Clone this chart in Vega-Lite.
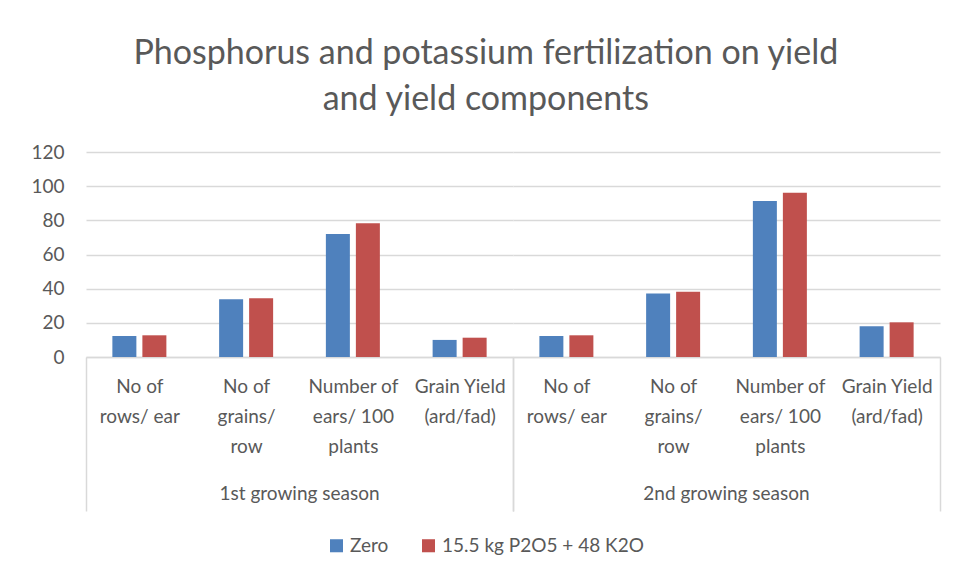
{
  "$schema": "https://vega.github.io/schema/vega-lite/v6.json",
  "background": "white",
  "padding": {"left": 30, "top": 37, "right": 10, "bottom": 5},
  "title": {
    "text": ["Phosphorus and potassium fertilization on yield", "and yield components"],
    "fontSize": 34, "font": "Lato", "fontWeight": "normal", "color": "#595959",
    "lineHeight": 46, "anchor": "middle", "offset": 26
  },
  "data": {
    "values": [
      {"season": "1st growing season", "category": "No of rows/ ear", "series": "Zero", "value": 12.3},
      {"season": "1st growing season", "category": "No of rows/ ear", "series": "15.5 kg P2O5 + 48 K2O", "value": 12.7},
      {"season": "1st growing season", "category": "No of grains/ row", "series": "Zero", "value": 33.8},
      {"season": "1st growing season", "category": "No of grains/ row", "series": "15.5 kg P2O5 + 48 K2O", "value": 34.4},
      {"season": "1st growing season", "category": "Number of ears/ 100 plants", "series": "Zero", "value": 72.0},
      {"season": "1st growing season", "category": "Number of ears/ 100 plants", "series": "15.5 kg P2O5 + 48 K2O", "value": 78.3},
      {"season": "1st growing season", "category": "Grain Yield (ard/fad)", "series": "Zero", "value": 10.0},
      {"season": "1st growing season", "category": "Grain Yield (ard/fad)", "series": "15.5 kg P2O5 + 48 K2O", "value": 11.3},
      {"season": "2nd growing season", "category": "No of rows/ ear", "series": "Zero", "value": 12.3},
      {"season": "2nd growing season", "category": "No of rows/ ear", "series": "15.5 kg P2O5 + 48 K2O", "value": 12.7},
      {"season": "2nd growing season", "category": "No of grains/ row", "series": "Zero", "value": 37.1},
      {"season": "2nd growing season", "category": "No of grains/ row", "series": "15.5 kg P2O5 + 48 K2O", "value": 38.2},
      {"season": "2nd growing season", "category": "Number of ears/ 100 plants", "series": "Zero", "value": 91.3},
      {"season": "2nd growing season", "category": "Number of ears/ 100 plants", "series": "15.5 kg P2O5 + 48 K2O", "value": 96.2},
      {"season": "2nd growing season", "category": "Grain Yield (ard/fad)", "series": "Zero", "value": 18.0},
      {"season": "2nd growing season", "category": "Grain Yield (ard/fad)", "series": "15.5 kg P2O5 + 48 K2O", "value": 20.3}
    ]
  },
  "spacing": 0,
  "facet": {
    "column": {
      "field": "season", "type": "nominal",
      "header": {
        "title": null, "labelOrient": "bottom", "labelFontSize": 19, "labelFont": "Lato",
        "labelColor": "#595959", "labelPadding": -27
      }
    }
  },
  "spec": {
    "width": 427,
    "height": 205,
    "mark": {"type": "bar"},
    "encoding": {
      "x": {
        "field": "category", "type": "nominal",
        "sort": ["No of rows/ ear", "No of grains/ row", "Number of ears/ 100 plants", "Grain Yield (ard/fad)"],
        "scale": {"paddingInner": 0, "paddingOuter": 0},
        "axis": {
          "title": null, "labelAngle": 0, "domainColor": "#d9d9d9", "domainWidth": 1.5,
          "tickBand": "extent", "tickSize": 154, "tickColor": "#d9d9d9", "tickWidth": 1.5,
          "tickOpacity": {"condition": {"test": "datum.extra || datum.index == 1", "value": 1}, "value": 0},
          "labelPadding": -134, "labelBaseline": "top", "labelFontSize": 19, "labelFont": "Lato",
          "labelColor": "#595959", "labelLineHeight": 30,
          "labelExpr": "datum.value == 'No of rows/ ear' ? ['No of', 'rows/ ear'] : datum.value == 'No of grains/ row' ? ['No of', 'grains/', 'row'] : datum.value == 'Number of ears/ 100 plants' ? ['Number of', 'ears/ 100', 'plants'] : datum.value == 'Grain Yield (ard/fad)' ? ['Grain Yield', '(ard/fad)'] : ''"
        }
      },
      "xOffset": {
        "field": "series", "type": "nominal",
        "sort": ["Zero", "15.5 kg P2O5 + 48 K2O"],
        "scale": {"paddingInner": 0.2, "paddingOuter": 0.879}
      },
      "y": {
        "field": "value", "type": "quantitative",
        "scale": {"domain": [0, 120]},
        "axis": {
          "title": null, "values": [0, 20, 40, 60, 80, 100, 120], "domain": false, "ticks": false,
          "gridColor": "#d9d9d9", "gridWidth": 1.5, "labelPadding": 22,
          "labelFontSize": 19, "labelFont": "Lato", "labelColor": "#595959"
        }
      },
      "color": {
        "field": "series", "type": "nominal",
        "sort": ["Zero", "15.5 kg P2O5 + 48 K2O"],
        "scale": {"domain": ["Zero", "15.5 kg P2O5 + 48 K2O"], "range": ["#4f81bd", "#c0504d"]},
        "legend": {
          "orient": "bottom", "direction": "horizontal", "title": null, "symbolType": "square",
          "symbolSize": 170, "labelFontSize": 19, "labelFont": "Lato", "labelColor": "#595959",
          "labelLimit": 400, "columnPadding": 30, "offset": 24
        }
      }
    }
  },
  "config": {
    "view": {"stroke": null},
    "legend": {"layout": {"bottom": {"anchor": "middle"}}}
  }
}
